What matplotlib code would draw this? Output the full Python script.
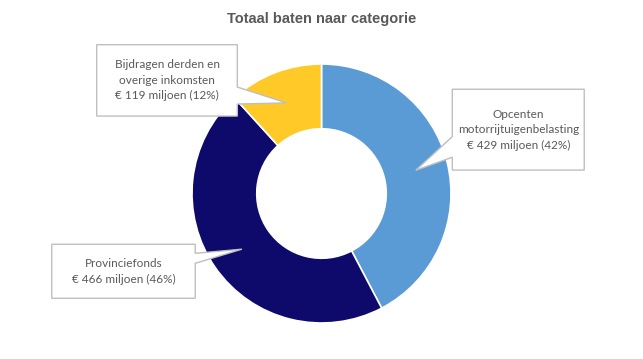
import numpy as np
import matplotlib
matplotlib.use("Agg")
import matplotlib.pyplot as plt
from matplotlib.patches import Polygon

# data
categories = ["Opcenten\nmotorrijtuigenbelasting", "Provinciefonds",
              "Bijdragen derden en\noverige inkomsten"]
values = [429, 466, 119]
percents = [42, 46, 12]
colors = ["#5B9BD5", "#0D0A6B", "#FFCA28"]

# callout boxes in data units (left, right, bottom, top, pointer base y0, y1, side)
boxes = [
    (1.010, 2.029, 0.181, 0.805, 0.280, 0.439, "left"),
    (-2.083, -0.975, -0.809, -0.392, -0.539, -0.462, "right"),
    (-1.736, -0.650, 0.598, 1.149, 0.691, 0.822, "right"),
]

fig = plt.figure(figsize=(6.43, 3.59), dpi=100)
ax = fig.add_axes([192 / 643, 36 / 359, 259 / 643, 259 / 359])

wedges, _ = ax.pie(values, colors=colors, startangle=90, counterclock=False,
                   radius=1.0, wedgeprops=dict(width=0.5, edgecolor="white", linewidth=1.2))
ax.set_xlim(-1, 1)
ax.set_ylim(-1, 1)
ax.set_aspect("equal")
ax.axis("off")

for w, cat, v, p, b in zip(wedges, categories, values, percents, boxes):
    L, R, B, T, y0, y1, side = b
    # pointer tip sits in the middle of the ring, at the wedge's mid angle
    mid = np.deg2rad((w.theta1 + w.theta2) / 2)
    tip = (0.75 * np.cos(mid), 0.75 * np.sin(mid))
    if side == "right":
        pts = [(L, T), (R, T), (R, y1), tip, (R, y0), (R, B), (L, B)]
    else:
        pts = [(L, T), (R, T), (R, B), (L, B), (L, y0), tip, (L, y1)]
    ax.add_patch(Polygon(pts, closed=True, facecolor="white", edgecolor="#BFBFBF",
                         linewidth=1, clip_on=False, zorder=5))
    label = f"{cat}\n€ {v} miljoen ({p}%)"
    ax.text((L + R) / 2, (B + T) / 2, label, ha="center", va="center",
            fontsize=8.5, color="#595959", family="Lato", linespacing=1.5,
            zorder=6, clip_on=False)

fig.text(322 / 643, 1 - 18.5 / 359, "Totaal baten naar categorie", ha="center", va="center",
         fontsize=10.5, fontweight="bold", color="#595959", family="Liberation Sans")

fig.savefig("out.png", dpi=100)
